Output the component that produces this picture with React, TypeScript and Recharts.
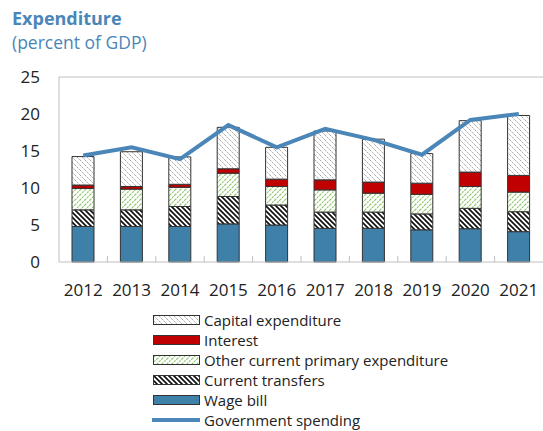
import React from "react";
import {
  ComposedChart,
  Bar,
  Line,
  XAxis,
  YAxis,
  ReferenceLine,
} from "recharts";

const YEARS = ["2012", "2013", "2014", "2015", "2016", "2017", "2018", "2019", "2020", "2021"];
const WAGE_BILL = [4.8, 4.8, 4.8, 5.15, 5.0, 4.55, 4.55, 4.35, 4.5, 4.1];
const CURRENT_TRANSFERS = [2.25, 2.25, 2.7, 3.7, 2.7, 2.2, 2.2, 2.15, 2.75, 2.7];
const OTHER_CURRENT = [2.9, 2.8, 2.6, 3.15, 2.5, 3.0, 2.55, 2.65, 2.95, 2.65];
const INTEREST = [0.45, 0.35, 0.4, 0.6, 1.0, 1.35, 1.5, 1.5, 1.95, 2.25];
const CAPITAL = [3.85, 4.7, 3.7, 5.6, 4.3, 6.6, 5.8, 4.0, 6.95, 8.1];
const GOV_SPENDING = [14.4, 15.5, 13.9, 18.5, 15.5, 18.0, 16.5, 14.5, 19.2, 20.0];
const Y_TICKS = [0, 5, 10, 15, 20, 25];

const data = YEARS.map((year, i) => ({
  year,
  wage: WAGE_BILL[i],
  transfers: CURRENT_TRANSFERS[i],
  other: OTHER_CURRENT[i],
  interest: INTEREST[i],
  capital: CAPITAL[i],
  gov: GOV_SPENDING[i],
}));

const BLUE = "#4a86b8";
const WAGE_FILL = "#3f80a8";
const RED = "#c00000";
const FONT = "'Open Sans', 'Noto Sans', sans-serif";

const LEGEND_ITEMS = [
  { label: "Capital expenditure", fill: "url(#capHatch)" },
  { label: "Interest", fill: RED },
  { label: "Other current primary expenditure", fill: "url(#otherHatch)" },
  { label: "Current transfers", fill: "url(#transHatch)" },
  { label: "Wage bill", fill: WAGE_FILL },
  { label: "Government spending", line: true },
];

function YearTick(props: any) {
  const { x, y, payload, index } = props;
  return (
    <g>
      <text x={x} y={y + 34} textAnchor="middle" fontSize={17} fill="#222" fontFamily={FONT}>
        {payload.value}
      </text>
      {index < YEARS.length - 1 && (
        <line x1={x + 24.2} x2={x + 24.2} y1={y} y2={y - 6} stroke="#bfbfbf" />
      )}
    </g>
  );
}

function Patterns() {
  return (
    <defs>
      <pattern id="capHatch" patternUnits="userSpaceOnUse" width="5" height="5">
        <rect width="5" height="5" fill="#fff" />
        <path d="M0,0 L5,5 M-1,4 L1,6 M4,-1 L6,1" stroke="#a8a8a8" strokeWidth="1" strokeDasharray="2 1" />
      </pattern>
      <pattern id="otherHatch" patternUnits="userSpaceOnUse" width="5" height="5">
        <rect width="5" height="5" fill="#fff" />
        <path d="M0,5 L5,0 M-1,1 L1,-1 M4,6 L6,4" stroke="#8cc266" strokeWidth="1.1" strokeDasharray="2 1" />
      </pattern>
      <pattern id="transHatch" patternUnits="userSpaceOnUse" width="5" height="5">
        <rect width="5" height="5" fill="#fff" />
        <path d="M0,0 L5,5 M-1,4 L1,6 M4,-1 L6,1" stroke="#111" strokeWidth="1.7" />
      </pattern>
    </defs>
  );
}

export default function App() {
  return (
    <div style={{ position: "absolute", left: 0, top: 0, width: 543, height: 431, background: "#fff", fontFamily: FONT, overflow: "hidden" }}>
      <svg width={0} height={0} style={{ position: "absolute" }}>
        <Patterns />
      </svg>
      <div style={{ position: "absolute", left: 12, top: 6, fontSize: 18, fontWeight: 700, color: BLUE }}>
        Expenditure
      </div>
      <div style={{ position: "absolute", left: 12, top: 30, fontSize: 17.5, color: BLUE }}>
        (percent of GDP)
      </div>
      <ComposedChart
        width={543}
        height={310}
        data={data}
        margin={{ top: 77, right: 0, left: 9, bottom: 0 }}
        barSize={22}
      >
        <XAxis
          dataKey="year"
          height={48}
          axisLine={{ stroke: "#bfbfbf" }}
          tickLine={false}
          tickSize={0}
          tickMargin={0}
          tick={<YearTick />}
          interval={0}
        />
        <YAxis
          domain={[0, 25]}
          ticks={Y_TICKS}
          width={50}
          axisLine={{ stroke: "#bfbfbf" }}
          tickLine={false}
          tickSize={0}
          tickMargin={19}
          tick={{ fontSize: 17, fill: "#222", fontFamily: FONT }}
          interval={0}
        />
        <ReferenceLine y={25} stroke="#bfbfbf" />
        <Bar dataKey="wage" stackId="a" fill={WAGE_FILL} stroke="#333" strokeWidth={1} isAnimationActive={false} />
        <Bar dataKey="transfers" stackId="a" fill="url(#transHatch)" stroke="#333" strokeWidth={1} isAnimationActive={false} />
        <Bar dataKey="other" stackId="a" fill="url(#otherHatch)" stroke="#333" strokeWidth={1} isAnimationActive={false} />
        <Bar dataKey="interest" stackId="a" fill={RED} stroke="#333" strokeWidth={1} isAnimationActive={false} />
        <Bar dataKey="capital" stackId="a" fill="url(#capHatch)" stroke="#333" strokeWidth={1} isAnimationActive={false} />
        <Line
          dataKey="gov"
          type="linear"
          stroke={BLUE}
          strokeWidth={4}
          dot={false}
          isAnimationActive={false}
        />
      </ComposedChart>
      <div style={{ position: "absolute", left: 152, top: 310 }}>
        {LEGEND_ITEMS.map((item) => (
          <div key={item.label} style={{ display: "flex", alignItems: "center", height: 20, fontSize: 15, lineHeight: "16px", color: "#222" }}>
            <svg width={50} height={12} style={{ marginRight: 2 }}>
              {item.line ? (
                <line x1={0} x2={48} y1={6} y2={6} stroke={BLUE} strokeWidth={4} />
              ) : (
                <rect x={1.5} y={1.5} width={46} height={9} fill={item.fill} stroke="#333" strokeWidth={1} />
              )}
            </svg>
            <span>{item.label}</span>
          </div>
        ))}
      </div>
    </div>
  );
}
